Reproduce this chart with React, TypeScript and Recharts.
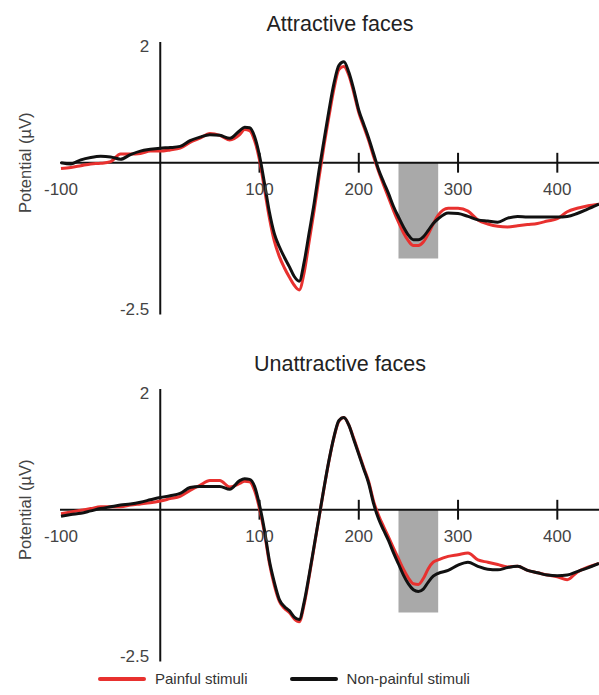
import {
  ComposedChart,
  Line,
  XAxis,
  YAxis,
  ReferenceLine,
  ReferenceArea,
  ReferenceDot,
  Legend,
} from "recharts";

// time points (ms)
const times = [
  -100, -90, -80, -70, -60, -50, -40, -30, -20, -10,
  0, 10, 20, 30, 40, 50, 60, 70, 80, 85,
  90, 95, 100, 105, 110, 115, 120, 125, 130, 135,
  140, 145, 150, 155, 160, 165, 170, 175, 180, 185,
  190, 195, 200, 205, 210, 215, 220, 225, 230, 235,
  240, 245, 250, 255, 260, 265, 270, 275, 280, 290,
  300, 310, 320, 330, 340, 350, 360, 370, 380, 390,
  400, 410, 420, 430, 442,
];

// Attractive faces (µV)
const attrPainful = [
  -0.1, -0.08, -0.05, -0.02, -0.01, 0.02, 0.15, 0.15, 0.16, 0.2,
  0.2, 0.22, 0.25, 0.35, 0.42, 0.5, 0.47, 0.39, 0.48, 0.57,
  0.55, 0.38, 0.05, -0.45, -0.95, -1.35, -1.61, -1.8, -1.96, -2.1,
  -2.18, -1.88, -1.35, -0.82, -0.25, 0.3, 0.8, 1.27, 1.6, 1.65,
  1.5, 1.2, 0.86, 0.62, 0.38, 0.1, -0.15, -0.38, -0.6, -0.82,
  -1.02, -1.2, -1.34, -1.42, -1.42, -1.36, -1.22, -1.05, -0.9, -0.78,
  -0.78, -0.83, -0.98, -1.05, -1.09, -1.1, -1.08, -1.06, -1.04, -1.0,
  -0.96, -0.84, -0.78, -0.74, -0.71,
];
const attrNonPainful = [
  0.0, -0.02, 0.05, 0.09, 0.11, 0.1, 0.06, 0.14, 0.2, 0.23,
  0.25, 0.26, 0.28, 0.38, 0.44, 0.48, 0.47, 0.42, 0.55, 0.61,
  0.6, 0.45, 0.12, -0.35, -0.85, -1.22, -1.44, -1.62, -1.78, -1.95,
  -2.03, -1.7, -1.2, -0.7, -0.13, 0.39, 0.9, 1.36, 1.67, 1.73,
  1.55, 1.25, 0.9, 0.66, 0.42, 0.15, -0.12, -0.33, -0.53, -0.75,
  -0.93, -1.1, -1.24, -1.32, -1.32, -1.27, -1.16, -1.04, -0.96, -0.86,
  -0.87, -0.92, -0.98, -1.0, -1.02, -0.95, -0.92, -0.93, -0.93, -0.93,
  -0.93, -0.92, -0.87, -0.8, -0.71,
];

// Unattractive faces (µV)
const unattrPainful = [
  -0.07, -0.04, -0.01, 0.02, 0.05, 0.05, 0.05, 0.08, 0.1, 0.12,
  0.15, 0.19, 0.23, 0.33, 0.42, 0.5, 0.5, 0.39, 0.45, 0.49,
  0.48, 0.33, 0.02, -0.4, -0.92, -1.3, -1.57, -1.69, -1.76, -1.87,
  -1.92, -1.62, -1.15, -0.64, -0.13, 0.37, 0.84, 1.24, 1.52, 1.58,
  1.45, 1.22, 0.97, 0.72, 0.48, 0.14, -0.1, -0.29, -0.47, -0.66,
  -0.84, -1.02, -1.17, -1.27, -1.28, -1.18, -1.01, -0.9, -0.86, -0.8,
  -0.77, -0.74, -0.86, -0.9, -0.94, -0.98, -0.97, -1.04, -1.08, -1.12,
  -1.15, -1.2, -1.07, -0.99, -0.92,
];
const unattrNonPainful = [
  -0.11, -0.08, -0.06, -0.02, 0.02, 0.05, 0.08, 0.1, 0.13, 0.17,
  0.21, 0.24, 0.28, 0.38, 0.4, 0.4, 0.4, 0.35, 0.5, 0.53,
  0.52, 0.4, 0.08, -0.35, -0.88, -1.25, -1.54, -1.66, -1.73, -1.84,
  -1.88, -1.58, -1.12, -0.62, -0.12, 0.38, 0.85, 1.25, 1.53, 1.58,
  1.45, 1.2, 0.95, 0.7, 0.45, 0.1, -0.16, -0.35, -0.53, -0.74,
  -0.93, -1.12, -1.27, -1.37, -1.4, -1.36, -1.24, -1.14, -1.09, -1.04,
  -0.95, -0.9, -0.97, -1.02, -1.03, -0.99, -0.97, -1.04, -1.08, -1.12,
  -1.13, -1.12, -1.06, -1.0, -0.92,
];

const seriesNames = ["Painful stimuli", "Non-painful stimuli"];
const xTickLabels = [-100, 100, 200, 300, 400];
const xTickMarks = [100, 200, 300, 400];
const yTickLabels = [2, -2.5];

// analysis window (ms) and depth of the shaded box (µV)
const windowStart = 240;
const windowEnd = 280;
const attrWindowFloor = -1.64;
const unattrWindowFloor = -1.76;

const RED = "#e8312f";
const BLACK = "#111111";
const TEXT = "#444444";

const renderLegend = (props: any) => {
  const items = [...(props.payload || [])].sort(
    (a: any, b: any) => seriesNames.indexOf(a.value) - seriesNames.indexOf(b.value)
  );
  return (
    <div style={{ display: "flex", alignItems: "center", paddingLeft: 98 }}>
      {items.map((item: any, i: number) => (
        <div
          key={i}
          style={{ display: "flex", alignItems: "center", marginRight: 42 }}
        >
          <svg width={48} height={6}>
            <line
              x1={2}
              y1={3}
              x2={46}
              y2={3}
              stroke={item.color}
              strokeWidth={4}
              strokeLinecap="round"
            />
          </svg>
          <span style={{ marginLeft: 9, fontSize: 15, color: "#333" }}>
            {item.value}
          </span>
        </div>
      ))}
    </div>
  );
};

interface PanelProps {
  title: string;
  titleY: number;
  painful: number[];
  nonPainful: number[];
  windowFloor: number;
  height: number;
  showLegend?: boolean;
}

function Panel({
  title,
  titleY,
  painful,
  nonPainful,
  windowFloor,
  height,
  showLegend,
}: PanelProps) {
  const data = times.map((t, i) => ({
    t,
    painful: painful[i],
    nonPainful: nonPainful[i],
  }));

  return (
    <div style={{ position: "relative", width: 599, height }}>
      <div
        style={{
          position: "absolute",
          left: 220,
          width: 240,
          top: titleY - 13,
          textAlign: "center",
          fontSize: 21.5,
          color: "#222",
          lineHeight: "26px",
        }}
      >
        {title}
      </div>
      <ComposedChart
        width={599}
        height={height}
        data={data}
        margin={{ top: 42, right: 0, bottom: height - 42 - 272.4, left: 60 }}
      >
        <XAxis hide type="number" dataKey="t" domain={[-101, 442]} />
        <YAxis hide type="number" domain={[-2.6, 2.07]} />
        <ReferenceArea
          x1={windowStart}
          x2={windowEnd}
          y1={windowFloor}
          y2={0}
          fill="#a9a9a9"
          fillOpacity={1}
          stroke="none"
        />
        <ReferenceLine y={0} stroke={BLACK} strokeWidth={2} />
        <ReferenceLine x={0} stroke={BLACK} strokeWidth={2} />
        {xTickMarks.map((t) => (
          <ReferenceLine
            key={`m${t}`}
            segment={[
              { x: t, y: 0.17 },
              { x: t, y: -0.17 },
            ]}
            stroke={BLACK}
            strokeWidth={2}
          />
        ))}
        {xTickLabels.map((t) => (
          <ReferenceDot
            key={`l${t}`}
            x={t}
            y={0}
            r={0}
            fill="none"
            stroke="none"
            label={{
              value: String(t),
              position: "bottom",
              offset: 20,
              fill: TEXT,
              fontSize: 17,
            }}
          />
        ))}
        {yTickLabels.map((v) => (
          <ReferenceDot
            key={`y${v}`}
            x={0}
            y={v}
            r={0}
            fill="none"
            stroke="none"
            label={{
              value: String(v),
              position: "left",
              offset: 11,
              fill: TEXT,
              fontSize: 17,
            }}
          />
        ))}
        <ReferenceDot
          x={-100}
          y={0}
          r={0}
          fill="none"
          stroke="none"
          label={{
            value: "Potential (µV)",
            position: "left",
            offset: 36,
            angle: -90,
            fill: TEXT,
            fontSize: 16.5,
            style: { textAnchor: "middle" },
          }}
        />
        <Line
          type="monotone"
          dataKey="painful"
          name={seriesNames[0]}
          stroke={RED}
          strokeWidth={3}
          dot={false}
          isAnimationActive={false}
        />
        <Line
          type="monotone"
          dataKey="nonPainful"
          name={seriesNames[1]}
          stroke={BLACK}
          strokeWidth={3}
          dot={false}
          isAnimationActive={false}
        />
        {showLegend && (
          <Legend
            verticalAlign="middle"
            layout="horizontal"
            content={renderLegend}
            wrapperStyle={{ top: 323, left: 0, width: 599 }}
          />
        )}
      </ComposedChart>
    </div>
  );
}

export default function App() {
  return (
    <div
      style={{
        position: "absolute",
        left: 0,
        top: 0,
        width: 599,
        height: 695,
        background: "#fff",
        fontFamily: '"Liberation Sans", Arial, sans-serif',
      }}
    >
      <Panel
        title="Attractive faces"
        titleY={24}
        painful={attrPainful}
        nonPainful={attrNonPainful}
        windowFloor={attrWindowFloor}
        height={347}
      />
      <Panel
        title="Unattractive faces"
        titleY={17}
        painful={unattrPainful}
        nonPainful={unattrNonPainful}
        windowFloor={unattrWindowFloor}
        height={348}
        showLegend
      />
    </div>
  );
}
